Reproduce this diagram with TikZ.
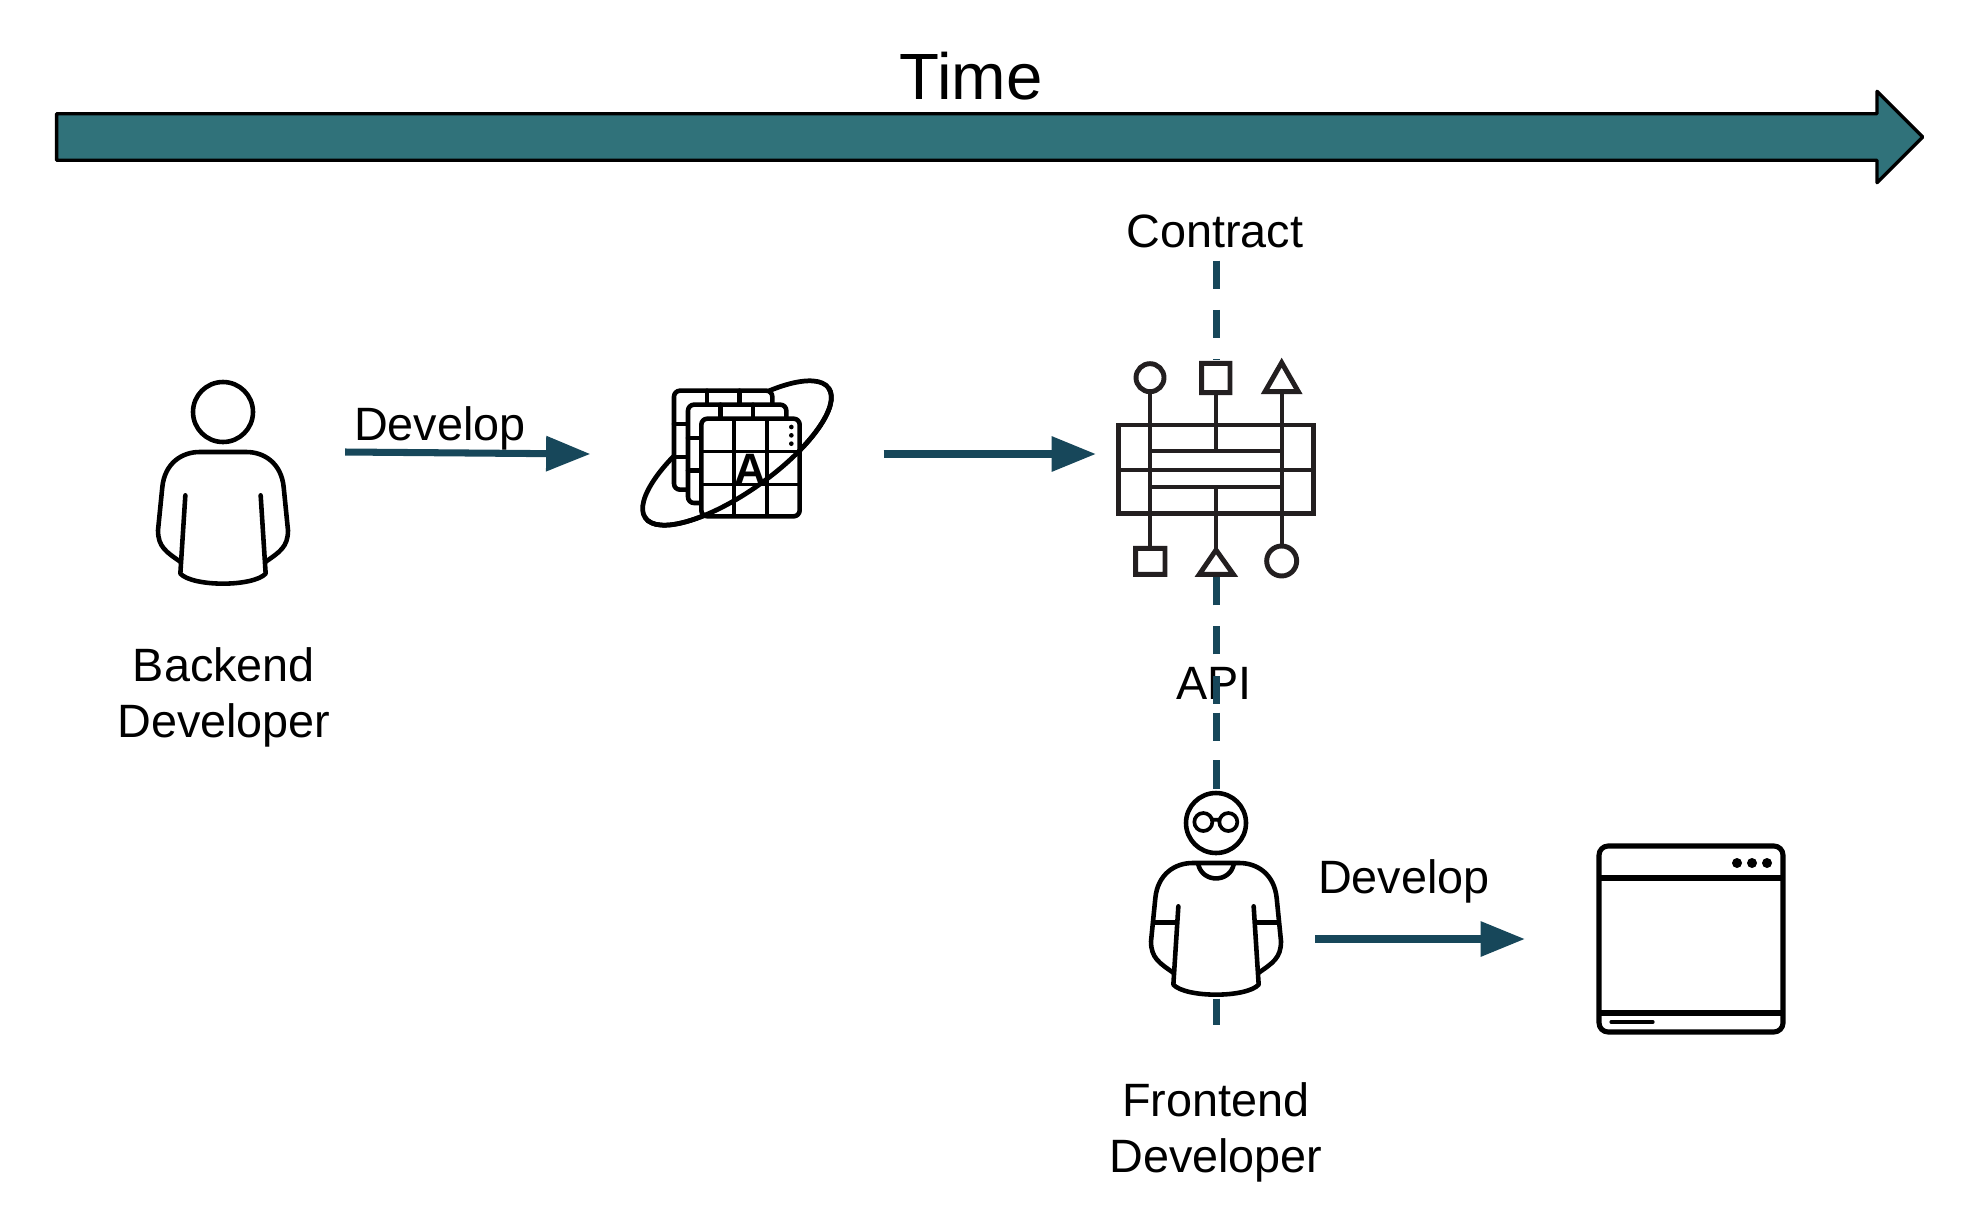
\documentclass[tikz,border=0pt]{standalone}
\usepackage{fontspec}
\setmainfont{Liberation Sans}
\usetikzlibrary{positioning,arrows.meta,shapes.arrows,calc}
\definecolor{timeteal}{HTML}{30727A}
\definecolor{flowblue}{HTML}{17475A}
\definecolor{apigrey}{HTML}{231F20}

\begin{document}
\begin{tikzpicture}[
  x=0.01cm, y=-0.01cm,
  lbl/.style={font=\fontsize{13.3}{15.9}\selectfont, align=center, inner sep=0pt},
  slot/.style={inner sep=0pt, outer sep=0pt},
  flow/.style={-{Triangle[length=12.6pt,width=9.6pt]}, line width=2pt, color=flowblue},
  contractline/.style={line width=2pt, color=flowblue, dash pattern=on 8pt off 6pt},
  iconline/.style={line width=1.3pt, line cap=round, line join=round},
  pics/person/.style={code={
    \fill[white] (-200,-95) rectangle (200,517);
    \draw[iconline] (0,0) circle[radius=90];
    \draw[iconline] (-127,450) .. controls (-170,420) and (-195,405) .. (-195,355)
      -- (-182,225) .. controls (-175,155) and (-125,120) .. (-70,120)
      -- (70,120) .. controls (125,120) and (175,155) .. (182,225)
      -- (195,355) .. controls (195,405) and (170,420) .. (127,450);
    \draw[iconline] (-113,250) -- (-128,485) .. controls (-90,525) and (90,525) .. (128,485) -- (113,250);
  }},
  pics/shirt/.style={code={
    \draw[iconline] (-53,125) .. controls (-40,180) and (40,180) .. (53,125);
    \draw[iconline] (-183,298) -- (-118,298) (183,298) -- (118,298);
    \draw[line width=1.05pt] (-38,-3) circle[radius=27] (37,-3) circle[radius=27] (-11,-10) -- (10,-10);
  }},
  pics/apiicon/.style={code={
    \fill[white] (-300,-330) rectangle (300,315);
    \draw[apigrey, line width=1.4pt] (-293,-135) rectangle (292,130) (-293,0) -- (292,0);
    \draw[apigrey, line width=1.2pt] (-198,-235) -- (-198,228) (197,-235) -- (197,228)
      (-198,-58) -- (197,-58) (-198,52) -- (197,52)
      (0,-232) -- (0,-58) (0,52) -- (0,240);
    \draw[apigrey, line width=1.4pt] (-198,-277) circle[radius=42]
      (-43,-320) rectangle (42,-232)
      (197,-322) -- (147,-235) -- (247,-235) -- cycle
      (-241,235) rectangle (-153,313)
      (0,240) -- (-50,313) -- (52,313) -- cycle
      (197,273) circle[radius=45];
  }},
  pics/schemaicon/.style={code={
    \draw[line width=1.35pt, rotate=35.3] (0,0) ellipse[x radius=337, y radius=116];
    \draw[iconline, fill=white, rounded corners=1.7pt] (-189,-187) rectangle (106,110);
    \draw[iconline] (-90,-187) -- (-90,-145) (8,-187) -- (8,-145) (-189,-87) -- (-147,-87) (-189,12) -- (-147,12);
    \draw[iconline, fill=white, rounded corners=1.7pt] (-147,-145) rectangle (148,150);
    \draw[iconline] (-49,-145) -- (-49,-103) (48,-145) -- (48,-103) (-147,-45) -- (-107,-45) (-147,53) -- (-107,53);
    \draw[iconline, fill=white, rounded corners=1.7pt] (-107,-103) rectangle (188,190);
    \draw[line width=0.95pt] (-9,-103) -- (-9,190) (90,-103) -- (90,190) (-107,-5) -- (188,-5) (-107,95) -- (188,95);
    \foreach \doty in {-78,-53,-28} {
      \fill (163,\doty) circle[radius=7];
    }
    \node[font=\fontsize{12.5}{12}\selectfont\bfseries, inner sep=0pt] (letter) at (41,48) {A};
    \draw[line width=1.35pt, rotate=35.3] (337,0) arc[start angle=0, end angle=180, x radius=337, y radius=116];
  }},
  pics/windowicon/.style={code={
    \draw[line width=1.45pt, rounded corners=2.6pt] (-92,-93) rectangle (92,93);
    \draw[line width=1.45pt] (-92,-61) -- (92,-61) (-92,74) -- (92,74);
    \foreach \dotx in {46,61,76} {
      \fill (\dotx,-76) circle[radius=5];
    }
    \draw[line width=0.9pt, line cap=round] (-80,83) -- (-38,83);
  }}
]
\useasboundingbox (0,0) rectangle (1976,1218);
% the time line
\node[draw=black, line width=0.95pt, fill=timeteal, line join=round, outer sep=0pt,
      inner xsep=0pt, inner ysep=0.216cm, text height=0pt, text depth=0pt,
      single arrow, shape border rotate=0, single arrow head indent=0pt,
      single arrow head extend=0.224cm, minimum height=18.65cm] (timeline) at (978,137) {};
\node[font=\fontsize{18.6}{18}\selectfont, inner sep=0pt] (timelbl) at (971,76) {Time};
% slots for the icons
\node[slot, minimum width=2.42cm, minimum height=2.4cm] (backend) at (224,452) {};
\node[slot, minimum width=2.93cm, minimum height=2.3cm] (schema) at (737,454) {};
\node[slot, minimum width=2.4cm, minimum height=2.4cm] (apigw) at (1216,454) {};
\node[slot, minimum width=1.98cm, minimum height=1.72cm] (frontend) at (1216,939) {};
\node[slot, minimum width=3.34cm, minimum height=1.86cm] (window) at (1692,939) {};
% labels
\node[lbl, minimum height=0.58cm] (contract) at (1215,231) {Contract};
\node[lbl, minimum height=0.4cm] (api) at (1214,683) {API};
\node[lbl, below=0.75cm of backend] (backendlbl) {Backend\\Developer};
\node[lbl, below=0.565cm of frontend] (frontendlbl) {Frontend\\Developer};
\node[lbl] (dev1) at (440,428) {Develop};
\node[lbl] (dev2) at (1404,881) {Develop};
% contract line
\draw[contractline] (contract.south -| apigw.north) -- (apigw.center);
\draw[contractline] (api.south -| apigw.south) -- (apigw.center);
\draw[contractline, dash pattern=on 8pt off 5.55pt] ($(api.south -| frontend.north)+(0,9)$) -- (frontend.south);
% icons
\pic[scale=0.3333] at (223,412) {person};
\pic[scale=0.3333] at (1216,823) {person};
\pic[scale=0.3333] at (1216,823) {shirt};
\pic[scale=0.3333] at (1216,470) {apiicon};
\pic[scale=0.3333] at (737,453) {schemaicon};
\pic at (1691,939) {windowicon};
% arrows
\draw[flow] (backend.east) -- (schema.west);
\draw[flow] (schema.east) -- (apigw.west);
\draw[flow] (frontend.east) -- (window.west);
\end{tikzpicture}
\end{document}
